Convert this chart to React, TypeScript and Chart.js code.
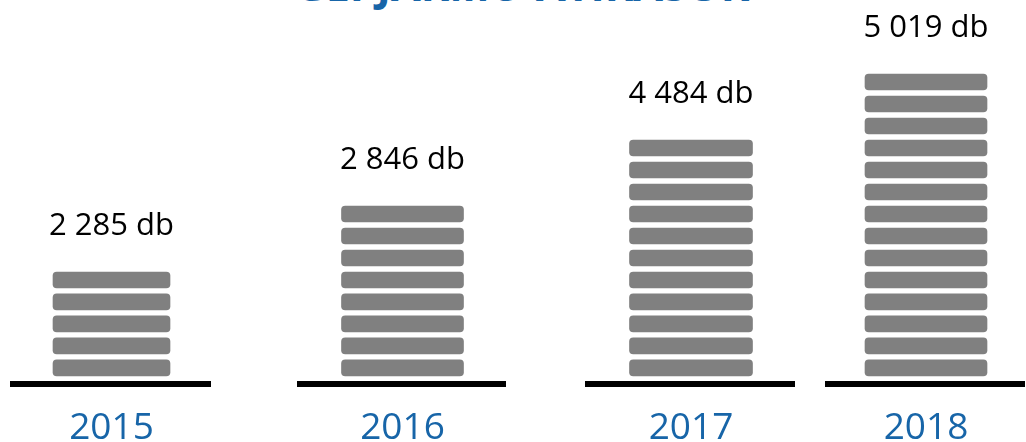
import React, { useEffect, useRef } from 'react';
import { Chart, registerables } from 'chart.js';

Chart.register(...registerables);

// ---- data ----
const years = ['2015', '2016', '2017', '2018'];
const counts = [2285, 2846, 4484, 5019];
const stackItems = [5, 8, 11, 14];
const unitLabel = 'db';
const titleText = 'GÉPJÁRMŰ-ÁTÍRÁSOK';

// ---- style ----
const BLUE = '#1765A8';
const GREY = '#808080';
const FONT = "'Open Sans', 'Noto Sans', sans-serif";

// layout of each panel (page px): left edge of plot area, its width, bar thickness
const panels = [
  { left: 13, width: 197, bar: 123 },
  { left: 300, width: 205, bar: 128 },
  { left: 588, width: 206, bar: 129 },
  { left: 828, width: 196, bar: 128 },
];
const PAD = 4;
const H = 442;

function fmt(n: number): string {
  return String(n).replace(/\B(?=(\d{3})+(?!\d))/g, ' ');
}

const valueLabelPlugin = {
  id: 'valueLabel',
  afterDatasetsDraw(chart: any, _args: any, opts: any) {
    const metas = chart.getSortedVisibleDatasetMetas();
    if (!metas.length) return;
    const topEl = metas[metas.length - 1].data[0];
    const ctx = chart.ctx;
    ctx.save();
    ctx.font = `31px ${FONT}`;
    ctx.fillStyle = '#000000';
    ctx.textAlign = 'center';
    ctx.textBaseline = 'alphabetic';
    ctx.fillText(opts.text, topEl.x, topEl.y - 34);
    ctx.restore();
  },
};

function Panel({ index }: { index: number }) {
  const ref = useRef<HTMLCanvasElement | null>(null);
  const p = panels[index];
  useEffect(() => {
    const n = stackItems[index];
    const datasets = Array.from({ length: n }, (_, k) => ({
      label: `${years[index]} ${k + 1}`,
      data: [1],
      backgroundColor: GREY,
      borderColor: '#ffffff',
      borderWidth: 3,
      borderSkipped: false as const,
      borderRadius: { topLeft: 7, topRight: 7, bottomLeft: 7, bottomRight: 7 },
      barThickness: p.bar,
    }));
    const chart = new Chart(ref.current as HTMLCanvasElement, {
      type: 'bar',
      data: { labels: [years[index]], datasets },
      options: {
        animation: false,
        responsive: false,
        layout: { padding: { top: 5, left: PAD, right: PAD, bottom: 0 } },
        plugins: {
          legend: { display: false },
          tooltip: { enabled: false },
          title: { display: false },
          valueLabel: { text: `${fmt(counts[index])} ${unitLabel}` },
        } as any,
        scales: {
          x: {
            stacked: true,
            grid: { display: false, drawTicks: false },
            border: { display: true, color: '#000000', width: 6 },
            ticks: {
              color: BLUE,
              font: { family: FONT, size: 37, lineHeight: 1.2 },
              padding: 22,
            },
            afterFit: (s: any) => {
              s.height = 58;
            },
          },
          y: { stacked: true, display: false, min: -0.23, max: 17 },
        },
      },
      plugins: [valueLabelPlugin],
    });
    return () => chart.destroy();
  }, [index]);
  return (
    <div style={{ position: 'absolute', left: p.left - PAD, top: 0, width: p.width + 2 * PAD, height: H }}>
      <canvas ref={ref} width={p.width + 2 * PAD} height={H} style={{ display: 'block' }} />
    </div>
  );
}

export default function App() {
  return (
    <div
      style={{
        position: 'absolute',
        left: 0,
        top: 0,
        width: 1026,
        height: H,
        overflow: 'hidden',
        background: '#ffffff',
      }}
    >
      <div
        style={{
          position: 'absolute',
          left: 222,
          width: 600,
          top: -40,
          textAlign: 'center',
          whiteSpace: 'nowrap',
          fontFamily: FONT,
          fontWeight: 700,
          fontSize: 43,
          lineHeight: '50px',
          color: BLUE,
        }}
      >
        {titleText}
      </div>
      {years.map((_, i) => (
        <Panel key={i} index={i} />
      ))}
    </div>
  );
}
